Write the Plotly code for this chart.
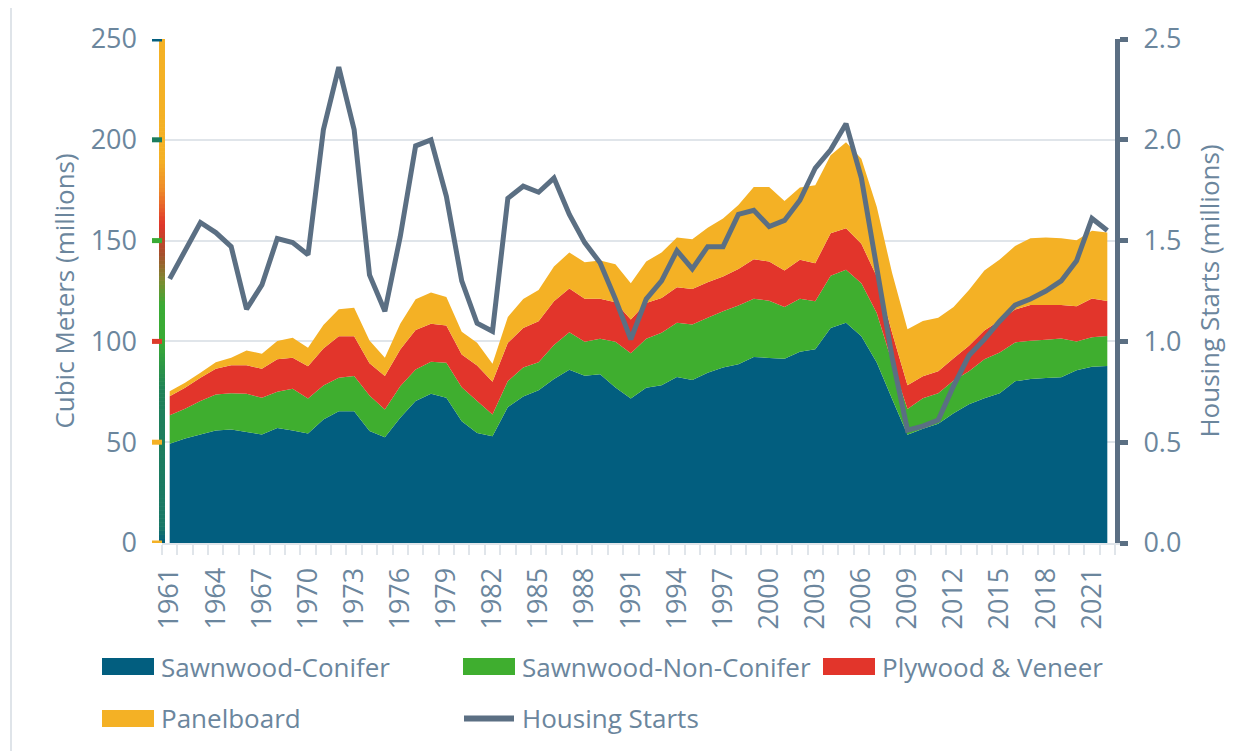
import plotly.graph_objects as go

# ---------------- data ----------------
years = list(range(1961, 2023))

sawnwood_conifer = [
    49.2, 51.8, 53.8, 55.8, 56.3, 55.0, 53.8, 57.1, 55.8, 54.3,
    61.3, 65.4, 65.4, 55.5, 52.5, 62.1, 70.4, 74.0, 72.0, 60.4,
    54.6, 53.0, 67.4, 72.7, 75.8, 81.3, 85.9, 82.9, 83.7, 77.1,
    71.7, 77.0, 78.3, 82.4, 80.9, 84.5, 87.0, 88.7, 92.3, 91.8,
    91.4, 94.9, 96.1, 106.7, 109.2, 102.6, 89.5, 71.4, 53.7, 56.7,
    59.2, 64.3, 68.8, 71.8, 74.3, 80.2, 81.4, 81.9, 82.2, 85.7,
    87.4, 87.8]

sawnwood_nonconifer = [
    14.2, 14.8, 16.6, 17.9, 18.0, 19.0, 18.2, 17.9, 20.7, 17.4,
    16.8, 16.6, 17.4, 17.7, 13.7, 15.7, 15.7, 15.9, 17.4, 16.9,
    15.8, 10.7, 12.9, 14.3, 13.9, 16.9, 18.7, 16.9, 17.6, 22.7,
    22.4, 24.3, 26.0, 26.8, 27.5, 27.2, 28.0, 29.1, 28.8, 28.4,
    25.7, 26.3, 23.8, 25.9, 26.3, 26.3, 24.6, 18.1, 12.8, 15.1,
    15.1, 16.3, 16.4, 19.3, 20.2, 19.3, 18.9, 18.9, 19.3, 14.3,
    14.6, 14.9]

plywood_veneer = [
    9.4, 10.4, 11.6, 12.7, 13.9, 14.2, 14.4, 16.2, 15.4, 16.0,
    18.4, 20.5, 19.7, 15.9, 16.6, 18.2, 19.5, 18.9, 18.5, 16.2,
    17.7, 16.3, 19.0, 19.7, 20.3, 21.7, 21.6, 21.4, 19.9, 19.6,
    16.8, 17.8, 17.2, 17.6, 17.6, 17.6, 17.2, 18.1, 19.7, 19.4,
    18.1, 19.3, 18.9, 21.0, 20.6, 19.5, 18.1, 14.8, 11.7, 10.9,
    10.9, 11.0, 12.6, 14.3, 15.9, 16.3, 17.7, 17.2, 16.5, 17.4,
    19.3, 17.3]

panelboard = [
    2.5, 2.5, 2.4, 3.3, 3.7, 7.3, 7.5, 9.0, 9.9, 9.2,
    11.6, 13.4, 14.2, 11.4, 9.1, 12.8, 15.3, 15.4, 14.1, 11.3,
    11.2, 8.9, 12.8, 14.3, 15.5, 17.3, 17.9, 18.1, 18.9, 18.9,
    18.0, 20.5, 22.6, 24.7, 24.7, 27.1, 28.8, 31.7, 35.8, 37.0,
    34.4, 35.8, 38.7, 38.7, 42.7, 42.2, 34.6, 29.6, 27.8, 27.4,
    26.5, 25.5, 27.7, 29.8, 30.2, 31.5, 33.2, 33.5, 33.2, 32.8,
    33.6, 34.0]

housing_starts = [
    1.31, 1.45, 1.59, 1.54, 1.47, 1.16, 1.28, 1.51, 1.49, 1.43,
    2.05, 2.36, 2.05, 1.33, 1.15, 1.52, 1.97, 2.00, 1.72, 1.30,
    1.09, 1.05, 1.71, 1.77, 1.74, 1.81, 1.63, 1.49, 1.39, 1.21,
    1.01, 1.21, 1.30, 1.45, 1.36, 1.47, 1.47, 1.63, 1.65, 1.57,
    1.60, 1.70, 1.86, 1.95, 2.08, 1.81, 1.36, 0.92, 0.56, 0.58,
    0.61, 0.78, 0.93, 1.01, 1.10, 1.18, 1.21, 1.25, 1.30, 1.40,
    1.61, 1.55]

left_ticks = [0, 50, 100, 150, 200, 250]
right_ticks = [0.0, 0.5, 1.0, 1.5, 2.0, 2.5]
year_ticks = years[::3]

series_names = ["Sawnwood-Conifer", "Sawnwood-Non-Conifer", "Plywood & Veneer", "Panelboard"]
line_name = "Housing Starts"

# ---------------- styles ----------------
C_CON = "#025e7f"
C_NON = "#3fae2f"
C_PLY = "#e2352b"
C_PAN = "#f4b125"
C_LINE = "#5b6f83"
C_TEXT = "#6b869d"
C_GRID = "#e0e5ea"
FONT = "Open Sans"

OFF = 8                      # page body margin
PAGE_W, PAGE_H = 1256, 751
W, H = PAGE_W - OFF, PAGE_H - OFF
L, R, T, B = 162, 1115, 39, 543   # plot area in page pixels


def px_x(px):
    return (px - L) / (R - L)


def px_y(py):
    return (B - py) / (B - T)


fig = go.Figure()
for name, vals, col in zip(series_names,
                           [sawnwood_conifer, sawnwood_nonconifer, plywood_veneer, panelboard],
                           [C_CON, C_NON, C_PLY, C_PAN]):
    fig.add_trace(go.Scatter(x=years, y=vals, name=name, stackgroup="one", mode="none",
                             fillcolor=col, showlegend=False))

fig.add_trace(go.Scatter(x=years, y=housing_starts, name=line_name, yaxis="y2", mode="lines",
                         line=dict(color=C_LINE, width=5), showlegend=False))

shapes = []
# gradient left axis line
stops = [(0, "#035e7e"), (8, "#1a7866"), (75, "#1f8158"), (100, "#3aab35"), (118, "#3aab35"),
         (130, "#7d8a30"), (143, "#a5502b"), (158, "#e0362b"), (175, "#ee8a2a"), (190, "#f4b125"),
         (250, "#f4b125")]


def hex2rgb(h):
    h = h.lstrip("#")
    return tuple(int(h[i:i + 2], 16) for i in (0, 2, 4))


def color_at(v):
    for (a, ca), (b, cb) in zip(stops[:-1], stops[1:]):
        if a <= v <= b:
            t = 0 if b == a else (v - a) / (b - a)
            c1, c2 = hex2rgb(ca), hex2rgb(cb)
            return "rgb(%d,%d,%d)" % tuple(round(c1[i] + (c2[i] - c1[i]) * t) for i in range(3))
    return stops[-1][1]


step = 2
v = 0
while v < 250:
    shapes.append(dict(type="line", xref="paper", yref="y", x0=px_x(162), x1=px_x(162),
                       y0=v, y1=min(v + step + 0.3, 250), line=dict(color=color_at(v + step / 2), width=6),
                       layer="above"))
    v += step

tick_cols = ["#f4b125", "#f4b125", "#dd3b2a", "#3aab35", "#1b7d5e", "#045f7e"]
for tv, tc in zip(left_ticks, tick_cols):
    shapes.append(dict(type="line", xref="paper", yref="y", x0=px_x(152), x1=px_x(162),
                       y0=tv, y1=tv, line=dict(color=tc, width=5), layer="above"))

# outer border
shapes.append(dict(type="rect", xref="paper", yref="paper", x0=px_x(11), x1=px_x(1270),
                   y0=px_y(770), y1=px_y(7), line=dict(color="#dfe4e9", width=2),
                   fillcolor="rgba(0,0,0,0)", layer="below"))

# custom legend
legend_items = [
    (series_names[0], C_CON, "rect", 102, 154, 666.5, 159),
    (series_names[1], C_NON, "rect", 463, 515, 666.5, 520),
    (series_names[2], C_PLY, "rect", 823, 875, 666.5, 880),
    (series_names[3], C_PAN, "rect", 102, 154, 718.5, 159),
    (line_name, C_LINE, "line", 464, 514, 718.5, 520),
]
annotations = []
for name, col, kind, x0, x1, yc, tx in legend_items:
    if kind == "rect":
        shapes.append(dict(type="rect", xref="paper", yref="paper", x0=px_x(x0), x1=px_x(x1),
                           y0=px_y(yc + 8.5), y1=px_y(yc - 8.5), fillcolor=col, line=dict(width=0)))
    else:
        shapes.append(dict(type="line", xref="paper", yref="paper", x0=px_x(x0), x1=px_x(x1),
                           y0=px_y(yc), y1=px_y(yc), line=dict(color=col, width=6)))
    annotations.append(dict(text=name, xref="paper", yref="paper", x=px_x(tx), y=px_y(yc),
                            xanchor="left", yanchor="middle", showarrow=False,
                            font=dict(family=FONT, size=26, color=C_TEXT)))

fig.update_layout(
    width=W, height=H,
    margin=dict(l=L - OFF, r=W - (R - OFF), t=T - OFF, b=H - (B - OFF), autoexpand=False),
    paper_bgcolor="white", plot_bgcolor="white",
    font=dict(family=FONT, color=C_TEXT),
    showlegend=False,
    shapes=shapes,
    annotations=annotations,
    xaxis=dict(
        range=[1960.5, 2022.5], tickmode="array", tickvals=year_ticks,
        ticktext=[str(y) for y in year_ticks], tickangle=-90, ticks="",
        tickfont=dict(size=27, color=C_TEXT), ticklabelstandoff=12,
        showgrid=False, zeroline=False, showline=True, linecolor=C_GRID, linewidth=2,
        minor=dict(tickmode="linear", tick0=1960.5, dtick=1, ticks="outside", ticklen=10,
                   tickwidth=2, tickcolor=C_GRID, showgrid=False),
    ),
    yaxis=dict(
        range=[0, 250], tickvals=left_ticks, ticks="", ticklabelstandoff=24,
        tickfont=dict(size=27, color=C_TEXT), showgrid=True, gridcolor=C_GRID, gridwidth=2,
        zeroline=False, showline=False,
        title=dict(text="Cubic Meters (millions)", font=dict(size=26, color=C_TEXT), standoff=8),
    ),
    yaxis2=dict(
        range=[0, 2.5], tickvals=right_ticks, tickformat=".1f", overlaying="y", side="right",
        showgrid=False, zeroline=False, showline=True, linecolor=C_LINE, linewidth=5,
        ticks="outside", ticklen=8, tickwidth=5, tickcolor=C_LINE, ticklabelstandoff=10,
        tickfont=dict(size=27, color=C_TEXT),
        title=dict(text="Housing Starts (millions)", font=dict(size=26, color=C_TEXT), standoff=22),
    ),
)

fig.write_html("out.html")
